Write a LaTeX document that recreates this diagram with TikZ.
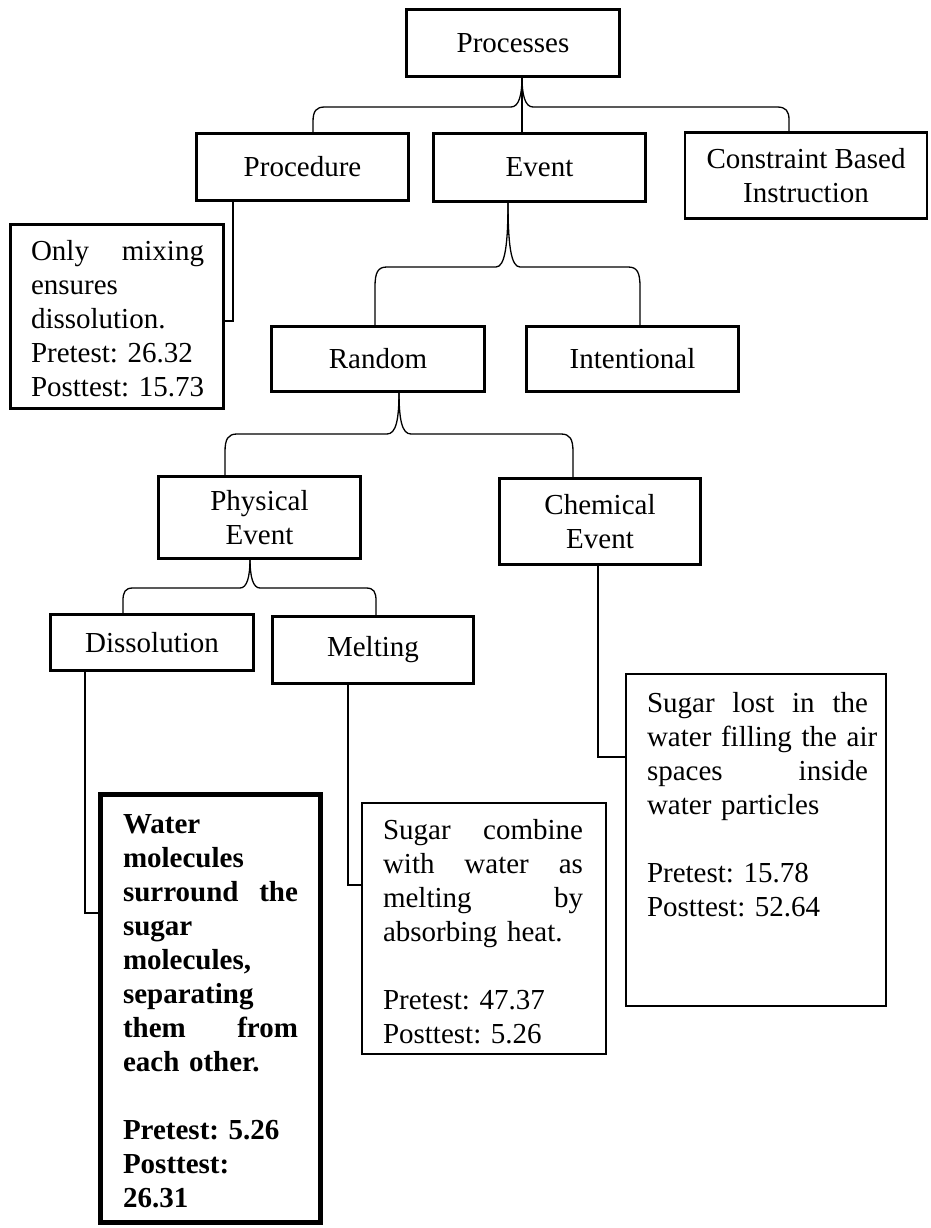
\documentclass[tikz,border=0pt]{standalone}
\usepackage{fontspec}
\setmainfont{Liberation Serif}
\frenchspacing
\begin{document}
\begin{tikzpicture}[x=1pt,y=-1pt,
  txt/.style={font=\fontsize{29pt}{34pt}\selectfont},
  box/.style={txt, draw, line width=2.6pt, inner sep=0pt, outer sep=0pt, align=center},
  notebox/.style={draw, line width=2.6pt, inner sep=0pt, outer sep=0pt},
  notetext/.style={txt, anchor=north west, inner sep=0pt, outer sep=0pt, align=left},
  link/.style={line width=1.3pt}]
\useasboundingbox (0,0) rectangle (931,1228);

% category boxes
\node[box, minimum width=213pt, minimum height=67pt] (processes) at (513,43) {Processes};
\node[box, minimum width=212pt, minimum height=67pt] (procedure) at (302.5,167) {Procedure};
\node[box, minimum width=212pt, minimum height=68pt] (event) at (539.5,167.5) {Event};
\node[box, minimum width=242pt, minimum height=86pt] (constraint) at (806,175.5) {Constraint Based\\Instruction};
\node[box, minimum width=213pt, minimum height=65pt] (random) at (378,359) {Random};
\node[box, minimum width=212pt, minimum height=65pt] (intentional) at (632.5,359) {Intentional};
\node[box, minimum width=202pt, minimum height=82pt] (physical) at (259.5,517.5) {Physical\\Event};
\node[box, minimum width=201pt, minimum height=86pt] (chemical) at (600,521.5) {Chemical\\Event};
\node[box, minimum width=203pt, minimum height=56pt] (dissolution) at (152,642.5) {Dissolution};
\node[box, minimum width=201pt, minimum height=67pt] (melting) at (373,650) {Melting};

% result boxes
\node[notebox, line width=3pt, minimum width=213pt, minimum height=184pt] (pnote) at (117,316.5) {};
\node[notetext, text width=173pt] (ptext) at (31,236.2)
  {\strut Only\hfill mixing\\ ensures\\ dissolution.\\ \mbox{Pretest: 26.32}\\ \mbox{Posttest: 15.73}};

\node[notebox, line width=5pt, minimum width=220pt, minimum height=428pt] (bold) at (210.5,1008.5) {};
\node[notetext, text width=175pt, font=\fontsize{29pt}{34pt}\selectfont\bfseries] (btext) at (123,810)
  {\strut Water\\ molecules\\ surround\hfill the\\ sugar\\ molecules,\\ separating\\ them\hfill from\\ each other.\\[34pt] \mbox{Pretest: 5.26}\\ Posttest:\\ 26.31};

\node[notebox, line width=2.5pt, minimum width=244pt, minimum height=251pt] (mnote) at (484,928.5) {};
\node[notetext, text width=200pt] (mtext) at (383,816)
  {\strut Sugar\hfill combine\\ with\hfill water\hfill as\\ melting\hfill by\\ \mbox{absorbing heat.}\\[34pt] \mbox{Pretest: 47.37}\\ \mbox{Posttest: 5.26}};

\node[notebox, line width=2pt, minimum width=260pt, minimum height=332pt] (cnote) at (756,840) {};
\node[notetext, text width=221pt] (ctext) at (647,689)
  {\strut Sugar\hfill lost\hfill in\hfill the\\ \makebox[\hsize][s]{water filling the air}\\ spaces\hfill inside\\ \mbox{water particles}\\[34pt] \mbox{Pretest: 15.78}\\ \mbox{Posttest: 52.64}};

% braces
\draw[link] ([xshift=9pt]processes.south) .. controls (522,95) and (519,107) .. (511,107) -- (325,107)
  .. controls (316,107) and (313,111) .. (313,122) -- ([xshift=10.5pt]procedure.north);
\draw[link] ([xshift=9pt]processes.south) .. controls (522,95) and (525,107) .. (533,107) -- (777,107)
  .. controls (786,107) and (789,111) .. (789,120) -- ([xshift=-17pt]constraint.north);
\draw[link] ([xshift=9pt]processes.south) -- ([xshift=-17.5pt]event.north);

\draw[link] ([xshift=-31.5pt]event.south) .. controls (508,245) and (505,267) .. (496,267) -- (387,267)
  .. controls (378,267) and (375,272) .. (375,287) -- ([xshift=-3pt]random.north);
\draw[link] ([xshift=-31.5pt]event.south) .. controls (508,245) and (511,267) .. (520,267) -- (628,267)
  .. controls (637,267) and (640,272) .. (640,287) -- ([xshift=7.5pt]intentional.north);

\draw[link] ([xshift=21pt]random.south) .. controls (399,420) and (396,434) .. (387,434) -- (237,434)
  .. controls (228,434) and (225,439) .. (225,452) -- ([xshift=-34.5pt]physical.north);
\draw[link] ([xshift=21pt]random.south) .. controls (399,420) and (402,434) .. (411,434) -- (561,434)
  .. controls (570,434) and (573,439) .. (573,452) -- ([xshift=-27pt]chemical.north);

\draw[link] ([xshift=-9.5pt]physical.south) .. controls (250,577) and (247,588) .. (240,588) -- (133,588)
  .. controls (125,588) and (123,592) .. (123,601) -- ([xshift=-29pt]dissolution.north);
\draw[link] ([xshift=-9.5pt]physical.south) .. controls (250,577) and (253,588) .. (260,588) -- (366,588)
  .. controls (374,588) and (376,592) .. (376,601) -- ([xshift=3pt]melting.north);

% elbow connectors to result boxes
\draw[link] ([xshift=-69.5pt]procedure.south) |- ([yshift=-4.5pt]pnote.east);
\draw[link] ([xshift=-67pt]dissolution.south) |- ([yshift=95.5pt]bold.west);
\draw[link] ([xshift=-25pt]melting.south) |- ([yshift=43.5pt]mnote.west);
\draw[link] ([xshift=-2pt]chemical.south) |- ([yshift=83pt]cnote.west);
\end{tikzpicture}
\end{document}
